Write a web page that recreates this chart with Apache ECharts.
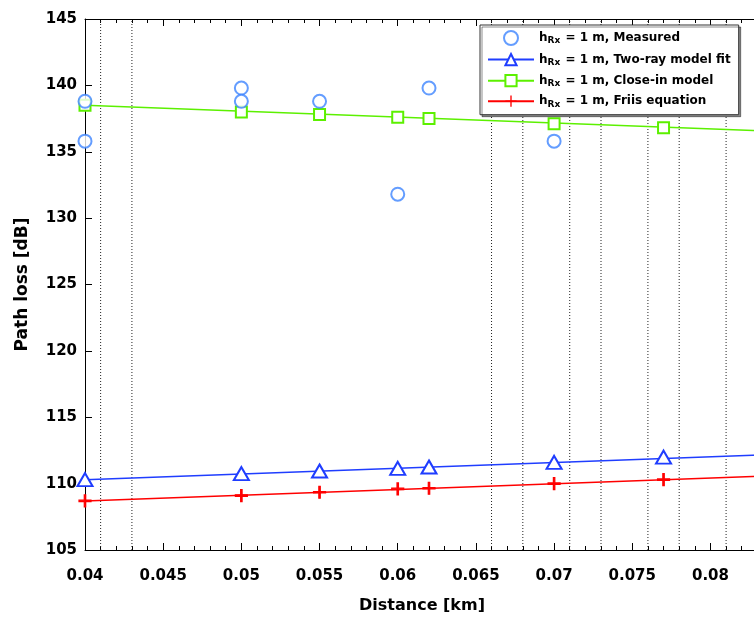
<!DOCTYPE html>
<html>
<head>
<meta charset="utf-8">
<script src="https://cdn.jsdelivr.net/npm/echarts@6/dist/echarts.min.js"></script>
<style>
  html, body { margin: 0; padding: 0; background: #fff; overflow: hidden; width: 754px; height: 617px; }
  #chart { width: 800px; height: 617px; }
</style>
</head>
<body>
<div id="chart"></div>
<script>
// ---------- data ----------
const xTicks = [0.04, 0.045, 0.05, 0.055, 0.06, 0.065, 0.07, 0.075, 0.08];
const xMin = 0.04, xMax = 0.084, xStep = 0.005;
const yTicks = [105, 110, 115, 120, 125, 130, 135, 140, 145];
const minorGridX = [0.041, 0.043, 0.066, 0.068, 0.071, 0.073, 0.076, 0.078, 0.081, 0.083];

const seriesNames = [
  "h_{Rx} = 1 m, Measured",
  "h_{Rx} = 1 m, Two-ray model fit",
  "h_{Rx} = 1 m, Close-in model",
  "h_{Rx} = 1 m, Friis equation"
];

// measured samples
const measDist = [0.04, 0.04, 0.05, 0.05, 0.055, 0.06, 0.062, 0.07];
const measPL   = [138.8, 135.8, 139.8, 138.8, 138.8, 131.8, 139.8, 135.8];

// model values at the measurement distances
const modelDist = [0.04, 0.05, 0.055, 0.06, 0.062, 0.07, 0.077];
const blueModel  = [110.3, 110.75, 110.95, 111.15, 111.25, 111.6, 112.0];
const greenModel = [138.5, 138.0, 137.8, 137.6, 137.5, 137.1, 136.8];
const redModel   = [108.7, 109.1, 109.35, 109.6, 109.65, 110.0, 110.3];

// model curves over the axis range
const curveDist  = [0.04, 0.084];
const blueCurve  = [110.3, 112.2];
const greenCurve = [138.5, 136.55];
const redCurve   = [108.7, 110.6];

// ---------- chart ----------
const FONT = 'DejaVu Sans';
const colMeas = '#3d85ff', colBlue = '#1f3dff', colGreen = '#5cf000', colRed = '#ff0000';
const plusPath = 'path://M4.4,0h1.2v4.4h4.4v1.2h-4.4v4.4h-1.2v-4.4h-4.4v-1.2h4.4z';
const yMin = yTicks[0], yMax = yTicks[yTicks.length - 1];

const zip = (xs, ys) => xs.map((x, i) => [x, ys[i]]);

function curveSeries(name, xs, ys, color, symbol, size) {
  return {
    name: name, type: 'line', xAxisIndex: 0, yAxisIndex: 0,
    data: zip(xs, ys).map(p => ({ value: p, symbol: 'none' })),
    symbol: symbol, symbolSize: size, showSymbol: true,
    lineStyle: { color: color, width: 1.5 },
    itemStyle: { color: color, borderWidth: 1.2 },
    silent: true, z: 2
  };
}
function markerSeries(name, xs, ys, color, symbol, size) {
  return {
    name: name, type: 'scatter', xAxisIndex: 0, yAxisIndex: 0,
    data: zip(xs, ys), symbol: symbol, symbolSize: size,
    itemStyle: { color: color, borderColor: color, borderWidth: 1.2, opacity: 1 },
    silent: true, z: 3
  };
}
const gridSeries = minorGridX.map(v => ({
  type: 'line', xAxisIndex: 0, yAxisIndex: 0,
  data: [[v, yMin], [v, yMax]], symbol: 'none', silent: true, z: 1,
  lineStyle: { type: [1, 2], color: '#222', width: 1 }
}));

const xAxisBase = {
  type: 'value', min: xMin, max: xMax, interval: xStep,
  axisLine: { show: true, lineStyle: { color: '#000', width: 1 } },
  axisTick: { show: true, inside: true, length: 7, lineStyle: { color: '#000' } },
  minorTick: { show: true, splitNumber: 5, length: 4, lineStyle: { color: '#000' } },
  splitLine: { show: false }, minorSplitLine: { show: false }
};

const chart = echarts.init(document.getElementById('chart'), null, { renderer: 'canvas' });
chart.setOption({
  animation: false,
  backgroundColor: '#fff',
  grid: { left: 85, top: 19, width: 688, height: 531, containLabel: false, outerBoundsMode: 'none' },
  xAxis: [
    Object.assign({}, xAxisBase, {
      position: 'bottom',
      name: 'Distance [km]', nameLocation: 'middle', nameGap: 48,
      nameTextStyle: { fontFamily: FONT, fontSize: 16, fontWeight: 'bold', color: '#000', padding: [0, 14, 0, 0] },
      axisLabel: {
        show: true, margin: 19, fontFamily: FONT, fontSize: 15, fontWeight: 'bold', color: '#000',
        formatter: v => { const t = xTicks.find(t => Math.abs(t - v) < 1e-9); return t === undefined ? '' : String(t); }
      }
    }),
    Object.assign({}, xAxisBase, { position: 'top', axisLabel: { show: false } })
  ],
  yAxis: [{
    type: 'value', min: yMin, max: yMax, interval: yTicks[1] - yTicks[0],
    name: 'Path loss [dB]', nameLocation: 'middle', nameGap: 54, nameRotate: 90,
    nameTextStyle: { fontFamily: FONT, fontSize: 17, fontWeight: 'bold', color: '#000' },
    axisLine: { show: true, lineStyle: { color: '#000', width: 1 } },
    axisTick: { show: true, inside: true, length: 7, lineStyle: { color: '#000' } },
    axisLabel: {
      margin: 8, fontFamily: FONT, fontSize: 15, fontWeight: 'bold', color: '#000',
      formatter: v => { const t = yTicks.find(t => Math.abs(t - v) < 1e-9); return t === undefined ? '' : String(t); }
    },
    splitLine: { show: false }
  }],
  legend: {
    orient: 'vertical', left: 480, top: 25,
    padding: [5, 8, 6, 7], itemGap: 7, itemWidth: 46, itemHeight: 14,
    backgroundColor: '#fff', borderColor: '#333', borderWidth: 1, borderRadius: 0,
    shadowColor: 'rgba(0,0,0,0.45)', shadowOffsetX: 2, shadowOffsetY: 2, shadowBlur: 0,
    selectedMode: false,
    data: seriesNames,
    formatter: name => name.replace(/_\{(.*?)\}/g, '{s|$1}'),
    textStyle: {
      fontFamily: FONT, fontSize: 12, fontWeight: 'bold', color: '#000',
      rich: { s: { fontFamily: FONT, fontSize: 9, fontWeight: 'bold', color: '#000', padding: [6, 1, 0, 0] } }
    }
  },
  series: gridSeries.concat([
    {
      name: seriesNames[0], type: 'scatter', data: zip(measDist, measPL),
      symbol: 'emptyCircle', symbolSize: 13,
      itemStyle: { color: colMeas, borderColor: colMeas, borderWidth: 1.2 },
      silent: true, z: 4
    },
    curveSeries(seriesNames[1], curveDist, blueCurve, colBlue, 'emptyTriangle', [15, 13]),
    curveSeries(seriesNames[2], curveDist, greenCurve, colGreen, 'emptyRect', 11),
    curveSeries(seriesNames[3], curveDist, redCurve, colRed, plusPath, 12),
    markerSeries(seriesNames[1], modelDist, blueModel, colBlue, 'emptyTriangle', [15, 13]),
    markerSeries(seriesNames[2], modelDist, greenModel, colGreen, 'emptyRect', 11),
    markerSeries(seriesNames[3], modelDist, redModel, colRed, plusPath, 12)
  ])
});
</script>
</body>
</html>
